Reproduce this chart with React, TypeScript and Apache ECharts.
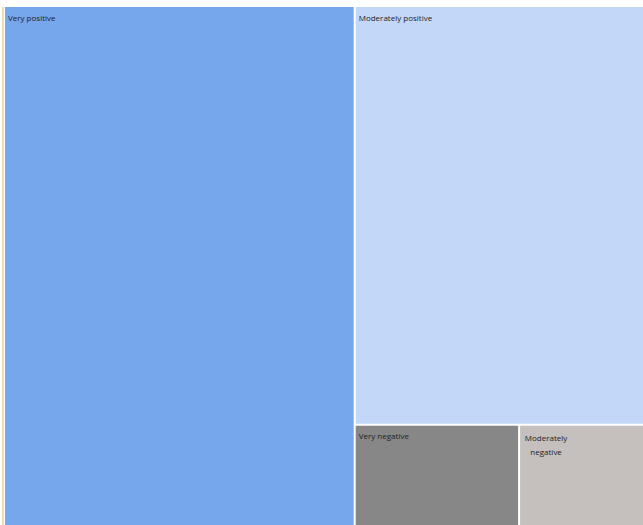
import React, { useEffect, useRef } from "react";
import * as echarts from "echarts";

const categories = ["Very positive", "Moderately positive", "Very negative", "Moderately negative"];
const values = [54.8, 36.4, 5.0, 3.8];
const colors = ["#76a7ec", "#c3d8f9", "#878787", "#c5c0be"];

export default function App() {
  const ref = useRef<HTMLDivElement>(null);
  useEffect(() => {
    const chart = echarts.init(ref.current!, null, { renderer: "svg" });
    const data = categories.map((name, i) => {
      const item: any = { name, value: values[i], itemStyle: { color: colors[i] } };
      if (name === "Moderately negative") {
        item.label = {
          formatter: "Moderately\nnegative",
          position: [26, 0],
          align: "center",
          lineHeight: 14,
        };
      }
      return item;
    });
    chart.setOption({
      animation: false,
      graphic: [
        { type: "rect", shape: { x: 2, y: 7, width: 2, height: 518 }, style: { fill: "#e6dfb4" }, z: 10 },
      ],
      series: [
        {
          type: "treemap",
          left: 5,
          top: 7,
          right: 0,
          bottom: 0,
          roam: false,
          nodeClick: false,
          squareRatio: 1,
          breadcrumb: { show: false },
          label: {
            show: true,
            position: "insideTopLeft",
            distance: 1,
            padding: [5, 2, 5, 2],
            fontSize: 8,
            fontFamily: "Open Sans",
            color: "#222",
          },
          upperLabel: { show: false },
          itemStyle: { borderWidth: 0, gapWidth: 2, borderColor: "#fff" },
          levels: [{ itemStyle: { gapWidth: 2, borderWidth: 0 } }],
          data,
        },
      ],
    });
    return () => chart.dispose();
  }, []);
  return (
    <div
      ref={ref}
      style={{ position: "absolute", left: 0, top: 0, width: 643, height: 525, background: "#fff" }}
    />
  );
}
